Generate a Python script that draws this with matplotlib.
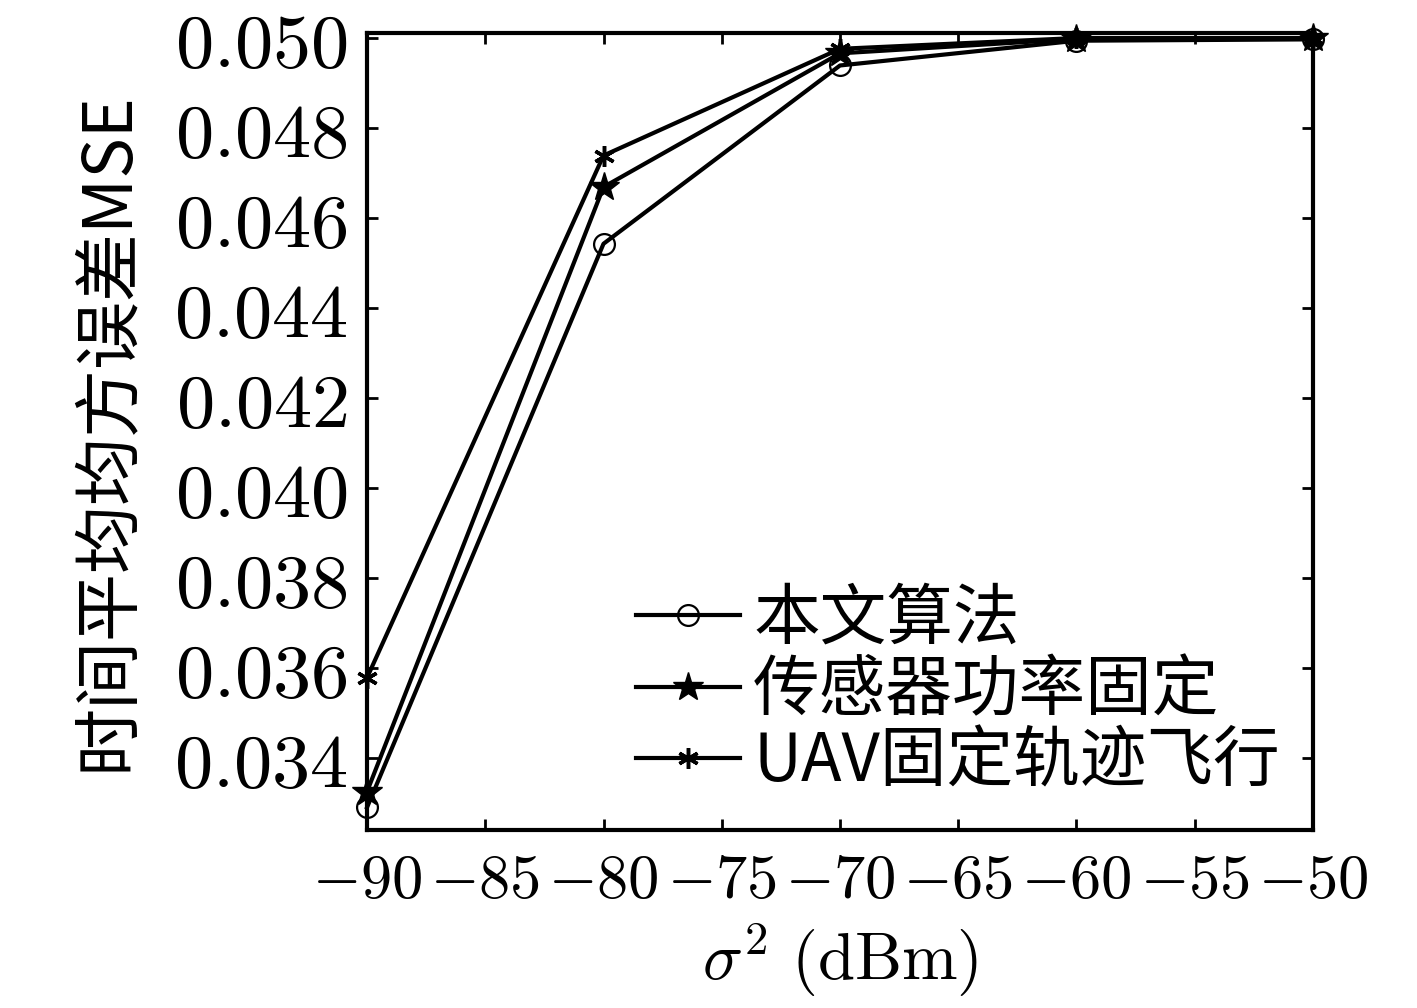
import matplotlib
matplotlib.use("Agg")
import matplotlib.pyplot as plt

# noise power in dBm and time-averaged MSE for the three schemes
sigma2 = [-90, -80, -70, -60, -50]
mse_proposed = [0.03290, 0.04542, 0.04938, 0.04993, 0.04996]
mse_fixed_power = [0.03325, 0.04668, 0.04965, 0.04997, 0.04998]
mse_fixed_traj = [0.03578, 0.04738, 0.04975, 0.04999, 0.04999]

labels = ["本文算法", "传感器功率固定", "UAV固定轨迹飞行"]
xticks = list(range(-90, -49, 5))
yticks = [0.034, 0.036, 0.038, 0.040, 0.042, 0.044, 0.046, 0.048, 0.050]

plt.rcParams['font.family'] = ['DejaVu Serif', 'Noto Sans CJK SC']
plt.rcParams['mathtext.fontset'] = 'cm'

fig = plt.figure(figsize=(14.17, 10.08), dpi=100)
ax = fig.add_axes([0.259, 0.1766, 0.6676, 0.7906])

lw = 3
ax.plot(sigma2, mse_proposed, color='black', lw=lw, marker='o', ms=15,
        mfc='none', mew=1.6, label=labels[0], clip_on=False)
ax.plot(sigma2, mse_fixed_power, color='black', lw=lw, marker='*', ms=22,
        mfc='black', label=labels[1], clip_on=False)
ax.plot(sigma2, mse_fixed_traj, color='black', lw=lw, marker=(6, 2, 0), ms=15,
        mew=2.5, label=labels[2], clip_on=False)

ax.set_xlim(-90, -50)
ax.set_ylim(0.0324, 0.0501)
ax.set_xticks(xticks)
ax.set_xticklabels([r'$%d$' % v for v in xticks])
ax.set_yticks(yticks)
ax.set_yticklabels([r'$%.3f$' % v for v in yticks])
ax.tick_params(direction='in', top=True, right=True, length=8, width=2)
ax.tick_params(axis='x', labelsize=45, pad=14)
ax.tick_params(axis='y', labelsize=55, pad=14)
for s in ax.spines.values():
    s.set_linewidth(3)

ax.set_xlabel(r'$\sigma^2\ \mathrm{(dBm)}$', fontsize=48, labelpad=8)
ax.set_ylabel('时间平均均方误差MSE', fontsize=49,
              family=['Noto Sans CJK SC', 'DejaVu Serif'], labelpad=22)

ax.legend(loc='lower right', bbox_to_anchor=(1.0, 0.0), frameon=False,
          prop={'family': ['Noto Sans CJK SC'], 'size': 48},
          handlelength=1.55, handletextpad=0.2, labelspacing=0.06,
          borderpad=0.1, borderaxespad=0.4)

fig.savefig('out.png', dpi=100, facecolor='white')
